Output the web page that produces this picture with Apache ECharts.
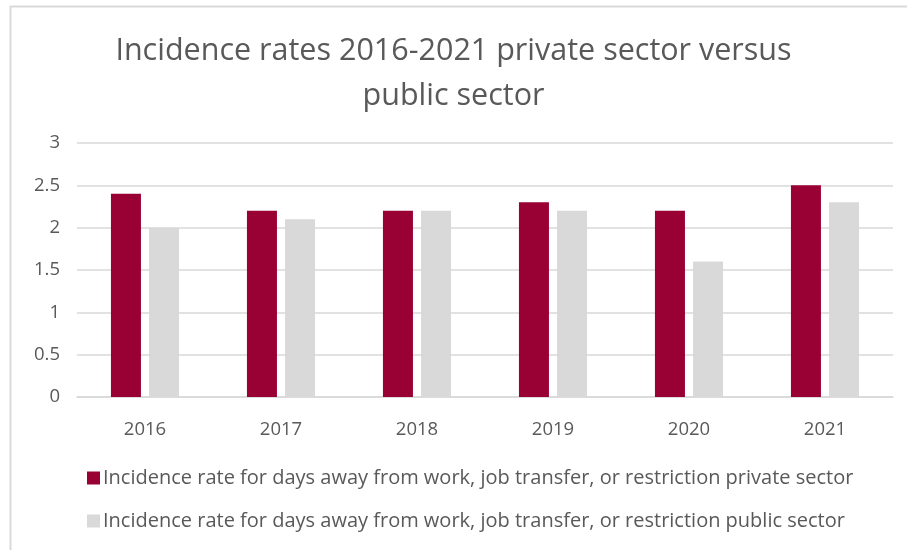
<!DOCTYPE html>
<html>
<head>
<meta charset="utf-8">
<script src="https://cdn.jsdelivr.net/npm/echarts@6/dist/echarts.min.js"></script>
<style>
  html, body { margin: 0; padding: 0; background: #ffffff; }
  #chart { width: 907px; height: 550px; }
</style>
</head>
<body>
<div id="chart"></div>
<script>
// Incidence rates by year, private vs public sector
const years = ['2016', '2017', '2018', '2019', '2020', '2021'];
const privateSector = [2.4, 2.2, 2.2, 2.3, 2.2, 2.5];
const publicSector = [2.0, 2.1, 2.2, 2.2, 1.6, 2.3];
const seriesNames = [
  'Incidence rate for days away from work, job transfer, or restriction private sector',
  'Incidence rate for days away from work, job transfer, or restriction public sector'
];

const font = '"Open Sans", sans-serif';
const textColor = '#595959';

const chart = echarts.init(document.getElementById('chart'), null, { renderer: 'canvas' });
chart.setOption({
  backgroundColor: '#ffffff',
  animation: false,
  title: {
    text: 'Incidence rates 2016-2021 private sector versus\npublic sector',
    left: 'center',
    top: 24,
    textStyle: {
      fontFamily: font,
      fontSize: 30.5,
      fontWeight: 'normal',
      color: textColor,
      lineHeight: 45
    }
  },
  legend: {
    orient: 'vertical',
    left: 82,
    top: 463,
    itemWidth: 13,
    itemHeight: 13,
    itemGap: 23,
    icon: 'rect',
    textStyle: { fontFamily: font, fontSize: 20, color: textColor, padding: [0, 0, 0, -2] },
    data: seriesNames
  },
  grid: { left: 77, right: 14, top: 143, bottom: 153 },
  xAxis: {
    type: 'category',
    data: years,
    axisLine: { lineStyle: { color: '#d9d9d9', width: 1.5 } },
    axisTick: { show: false },
    axisLabel: { fontFamily: font, fontSize: 18.5, color: textColor, margin: 23 }
  },
  yAxis: {
    type: 'value',
    min: 0,
    max: 3,
    interval: 0.5,
    axisLine: { show: false },
    axisTick: { show: false },
    splitLine: { lineStyle: { color: '#d9d9d9', width: 1.5 } },
    axisLabel: { fontFamily: font, fontSize: 18.5, color: textColor, margin: 17 }
  },
  series: [
    {
      name: seriesNames[0],
      type: 'bar',
      data: privateSector,
      barWidth: 30,
      barGap: '27%',
      itemStyle: { color: '#990033' }
    },
    {
      name: seriesNames[1],
      type: 'bar',
      data: publicSector,
      barWidth: 30,
      itemStyle: { color: '#d9d9d9' }
    }
  ],
  graphic: [
    { type: 'line', shape: { x1: 10, y1: 6.5, x2: 907, y2: 6.5 }, style: { stroke: '#d9d9d9', lineWidth: 2 } },
    { type: 'line', shape: { x1: 10.5, y1: 6, x2: 10.5, y2: 550 }, style: { stroke: '#d9d9d9', lineWidth: 2 } }
  ]
});
</script>
</body>
</html>
